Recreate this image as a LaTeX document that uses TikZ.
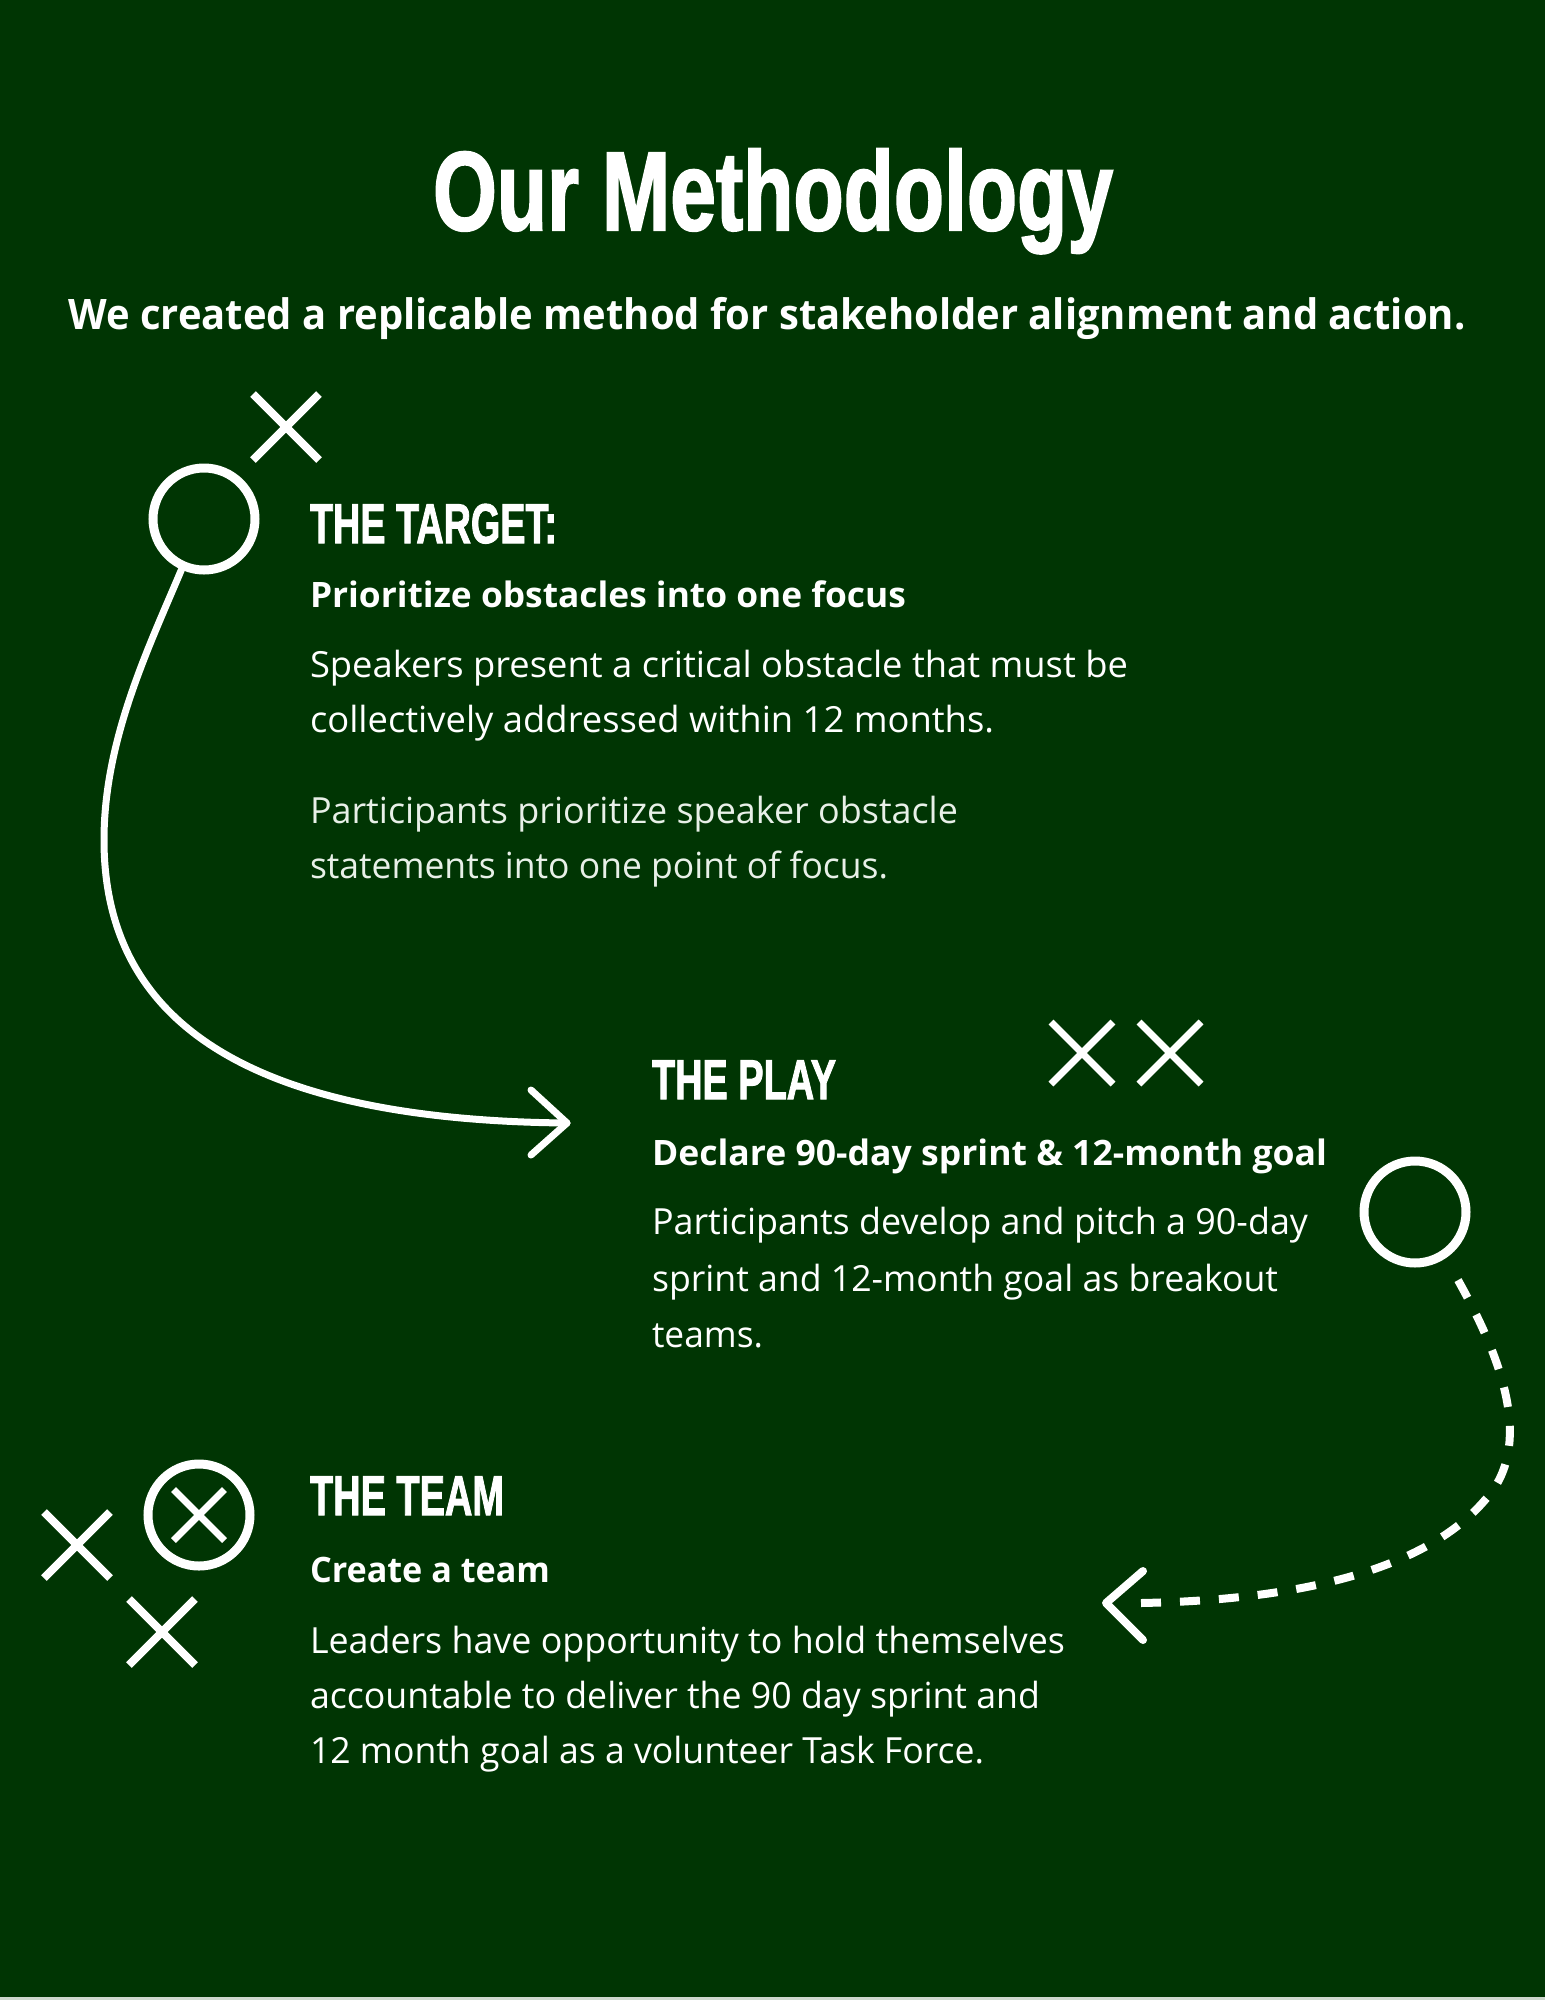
\documentclass[tikz,border=0pt]{standalone}
\usepackage{fontspec}
\usepackage{graphicx}
\setmainfont{Open Sans}
\newfontfamily\headfont[BoldFeatures={FakeBold=2}]{Liberation Sans}
\usetikzlibrary{shapes.misc}
\definecolor{bg}{RGB}{0,53,3}
\definecolor{soft}{RGB}{232,240,232}
\definecolor{edgeline}{RGB}{205,215,205}
\newsavebox\fitbox
\newlength\fitlen
\newcommand\fitw[2]{\sbox\fitbox{#2}\setlength\fitlen{\wd\fitbox}\pgfmathsetmacro\fitratio{#1/\fitlen}\scalebox{\fitratio}[1]{\usebox\fitbox}}
\tikzset{
  txt/.style={inner sep=0pt, outer sep=0pt, anchor=base west, text=white},
  headtxt/.style={txt, font=\headfont\bfseries\fontsize{56}{56}\selectfont},
  subtxt/.style={txt, font=\bfseries\fontsize{35}{40}\selectfont},
  bodytxt/.style={txt, font=\fontsize{36}{44}\selectfont},
  ring/.style={circle, draw=white, line width=9pt, minimum size=102pt, inner sep=0pt},
  xmark/.style={cross out, draw=white, line width=8pt, minimum size=58pt, inner sep=0pt},
  route/.style={draw=white, line width=7pt, line cap=round, line join=round},
  dashroute/.style={draw=white, line width=8pt, line cap=butt, dash pattern=on 20pt off 19pt},
}
\begin{document}
\begin{tikzpicture}[x=1pt, y=-1pt]
\fill[bg] (0,0) rectangle (1545,2000);
\useasboundingbox (0,0) rectangle (1545,2000);
\fill[edgeline] (0,1997) rectangle (1545,2000);

% headings
\node[txt, anchor=base] (title) at (773,230) {\fitw{680}{\headfont\bfseries\fontsize{112}{112}\selectfont Our Methodology}};
\node[txt, anchor=base] (subtitle) at (767,329) {\fitw{1397}{\bfseries\fontsize{42}{42}\selectfont We created a replicable method for stakeholder alignment and action.}};

% THE TARGET
\node[headtxt] (tgtH) at (310,543) {\fitw{247}{THE TARGET:}};
\node[subtxt] (tgtS) at (310,607) {\fitw{596}{Prioritize obstacles into one focus}};
\node[bodytxt] (tgtB1) at (310,677) {\fitw{818}{Speakers present a critical obstacle that must be}};
\node[bodytxt] (tgtB2) at (310,732) {\fitw{684}{collectively addressed within 12 months.}};
\node[bodytxt, text=soft] (tgtB3) at (310,823) {\fitw{648}{Participants prioritize speaker obstacle}};
\node[bodytxt, text=soft] (tgtB4) at (310,878) {\fitw{578}{statements into one point of focus.}};

% THE PLAY
\node[headtxt] (playH) at (652,1099) {\fitw{184}{THE PLAY}};
\node[subtxt] (playS) at (652,1165) {\fitw{675}{Declare 90-day sprint \& 12-month goal}};
\node[bodytxt] (playB1) at (652,1234) {\fitw{656}{Participants develop and pitch a 90-day}};
\node[bodytxt] (playB2) at (652,1291) {\fitw{626}{sprint and 12-month goal as breakout}};
\node[bodytxt] (playB3) at (652,1347) {\fitw{111}{teams.}};

% THE TEAM
\node[headtxt] (teamH) at (310,1515) {\fitw{194}{THE TEAM}};
\node[subtxt] (teamS) at (310,1582) {\fitw{240}{Create a team}};
\node[bodytxt] (teamB1) at (310,1653) {\fitw{755}{Leaders have opportunity to hold themselves}};
\node[bodytxt] (teamB2) at (310,1708) {\fitw{730}{accountable to deliver the 90 day sprint and}};
\node[bodytxt] (teamB3) at (310,1763) {\fitw{674}{12 month goal as a volunteer Task Force.}};

% play symbols
\node[ring] (c1) at (204,519) {};
\node[xmark] (x1) at (286,427) {};
\node[xmark, line width=7pt, minimum size=55pt] (x2) at (1082,1053) {};
\node[xmark, line width=7pt, minimum size=55pt] (x3) at (1170,1053) {};
\node[ring] (c2) at (1415,1212) {};
\node[ring] (c3) at (199,1515) {};
\node[xmark, line width=7pt, minimum size=44pt] (x4) at (199,1515) {};
\node[xmark] (x5) at (77,1545) {};
\node[xmark] (x6) at (162,1632) {};

% solid route: target -> play
\coordinate (tipA) at (567,1123);
\draw[route] (c1.246) .. controls (148,649) and (104,740) .. (104,840)
   .. controls (104,1010) and (230,1120) .. (tipA);
\draw[route] ([shift={(-36,-33)}]tipA) -- (tipA) -- ([shift={(-36,32)}]tipA);

% dashed route: play -> team
\coordinate (tipB) at (1106,1603);
\coordinate (dashEnd) at (1141,1603);
\coordinate (ringOut) at (1454,1273);
\draw[dashroute] (dashEnd) .. controls (1300,1600) and (1425,1570) .. (1485,1500)
   .. controls (1540,1440) and (1492,1340) .. (ringOut);
\draw[route, line width=8pt] ([shift={(37,-32)}]tipB) -- (tipB) -- ([shift={(37,37)}]tipB);
\end{tikzpicture}
\end{document}
